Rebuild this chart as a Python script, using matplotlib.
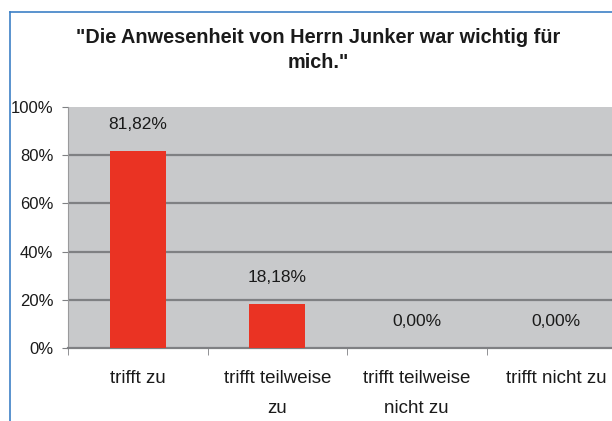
import matplotlib
matplotlib.use("Agg")
import matplotlib.pyplot as plt
from matplotlib.lines import Line2D

plt.rcParams["font.family"] = ["Liberation Sans", "DejaVu Sans"]

# data
categories = ["trifft zu", "trifft teilweise\nzu", "trifft teilweise\nnicht zu", "trifft nicht zu"]
shares = [81.82, 18.18, 0.00, 0.00]
y_ticks = [0, 20, 40, 60, 80, 100]
title = "\"Die Anwesenheit von Herrn Junker war wichtig für\nmich.\""

BAR_RED = "#ea3323"
PANEL_GRAY = "#c8c9cb"
GRID_GRAY = "#7f8083"
TEXT = "#1a1a1a"
BORDER_BLUE = "#3d80c6"


def pct_label(v):
    return f"{v:.2f}".replace(".", ",") + "%"


def main():
    fig = plt.figure(figsize=(6.12, 4.21), dpi=100)
    fig.patch.set_facecolor("white")

    # axes box runs past the right edge, as in the cropped original
    ax = fig.add_axes([68 / 612, 73 / 421, 558 / 612, 241 / 421])
    ax.set_facecolor(PANEL_GRAY)

    x = list(range(len(categories)))
    ax.bar(x, shares, width=0.4, color=BAR_RED, zorder=3)

    for xi, v in zip(x, shares):
        ax.annotate(pct_label(v), (xi, v), xytext=(0, 19), textcoords="offset points",
                    ha="center", va="center", fontsize=12.5, color=TEXT)

    ax.set_xlim(-0.5, 3.5)
    ax.set_ylim(0, 100)
    ax.set_yticks(y_ticks)
    ax.set_yticklabels([f"{t}%" for t in y_ticks], fontsize=12, color=TEXT)
    for t in y_ticks[1:-1]:
        ax.axhline(t, color=GRID_GRAY, lw=1.6, zorder=1)

    ax.set_xticks(x)
    ax.set_xticklabels(categories, fontsize=13.5, color=TEXT, linespacing=2.0)
    ax.set_xticks([i - 0.5 for i in range(len(categories) + 1)], minor=True)
    ax.tick_params(axis="x", which="major", length=0, pad=16)
    ax.tick_params(axis="x", which="minor", length=5, color=GRID_GRAY, direction="out")
    ax.tick_params(axis="y", length=4.5, color=GRID_GRAY, pad=6)

    for side in ["top", "right"]:
        ax.spines[side].set_visible(False)
    ax.spines["left"].set_color("#9a9a9c")
    ax.spines["bottom"].set_color(GRID_GRAY)
    ax.spines["bottom"].set_linewidth(1.6)

    fig.text(318 / 612, 1 - 50 / 421, title, ha="center", va="center", fontsize=14.3,
             fontweight="bold", color=TEXT, linespacing=1.45)

    # blue frame lines at the top and left edge
    fig.add_artist(Line2D([10 / 612, 1], [1 - 12 / 421, 1 - 12 / 421], color=BORDER_BLUE, lw=1.2))
    fig.add_artist(Line2D([10 / 612, 10 / 612], [0, 1 - 12 / 421], color=BORDER_BLUE, lw=1.2))

    fig.savefig("out.png", dpi=100)
    plt.close(fig)


if __name__ == "__main__":
    main()
